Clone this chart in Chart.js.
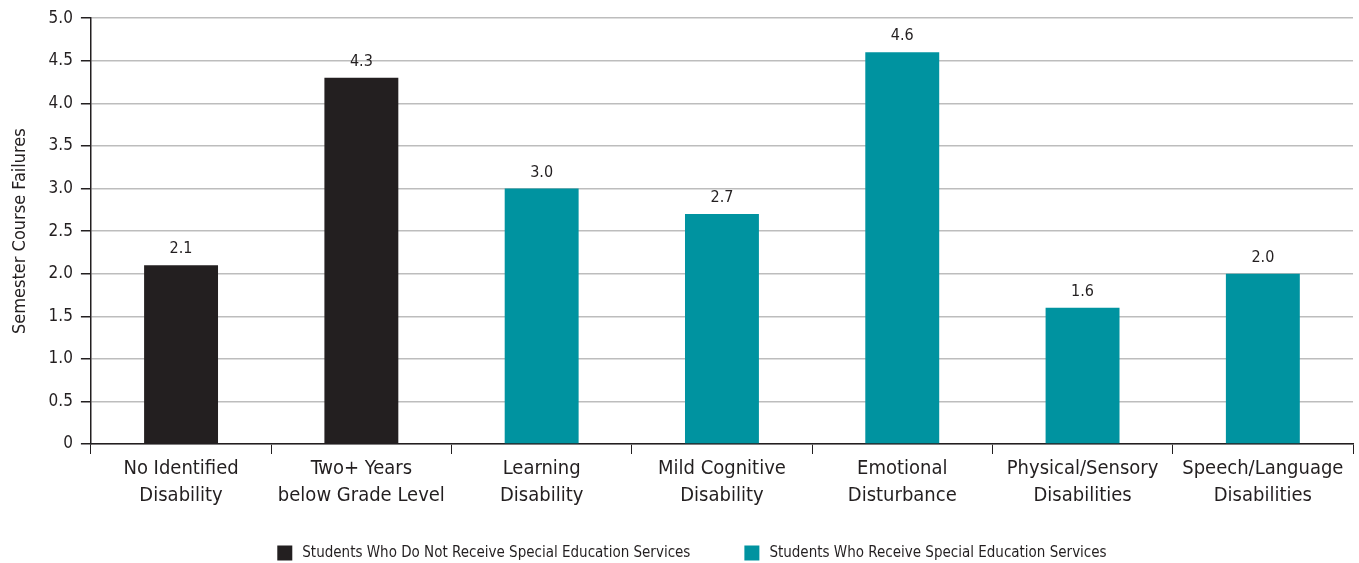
<!DOCTYPE html>
<html>
<head>
<meta charset="utf-8">
<script src="https://cdn.jsdelivr.net/npm/chart.js@4"></script>
<style>
  html, body { margin: 0; padding: 0; background: #fff; }
  #wrap { width: 1359px; height: 563px; position: relative; }
</style>
</head>
<body>
<div id="wrap"><canvas id="grafico"></canvas></div>
<script>
// ================= DATA =================
const categorias = [
    ["No Identified", "Disability"],
    ["Two+ Years", "below Grade Level"],
    ["Learning", "Disability"],
    ["Mild Cognitive", "Disability"],
    ["Emotional", "Disturbance"],
    ["Physical/Sensory", "Disabilities"],
    ["Speech/Language", "Disabilities"]
];
const fallas = [2.1, 4.3, 3.0, 2.7, 4.6, 1.6, 2.0];
const grupoBarra = [0, 0, 1, 1, 1, 1, 1];
const grupos = [
    "Students Who Do Not Receive Special Education Services",
    "Students Who Receive Special Education Services"
];
const coloresGrupo = ["#231f20", "#0093a0"];
const ticksY = [0, 0.5, 1.0, 1.5, 2.0, 2.5, 3.0, 3.5, 4.0, 4.5, 5.0];

const FUENTE = "'Liberation Sans Narrow', 'DejaVu Sans Condensed', 'Roboto Condensed', sans-serif";

// ================= PLUGINS =================
// etiquetas de valor sobre cada barra
const etiquetas = {
    id: "etiquetas",
    afterDatasetsDraw(chart) {
        const ctx = chart.ctx;
        const meta = chart.getDatasetMeta(0);
        ctx.save();
        ctx.font = "16px " + FUENTE;
        ctx.fillStyle = "#231f20";
        ctx.textAlign = "center";
        ctx.textBaseline = "bottom";
        meta.data.forEach((bar, i) => {
            ctx.fillText(fallas[i].toFixed(1), bar.x, bar.y - 8);
        });
        ctx.restore();
    }
};

// leyenda inferior (espaciado como el original)
const leyenda = {
    id: "leyenda",
    afterDraw(chart) {
        const ctx = chart.ctx;
        const caja = 15, hueco = 10, sep = 54;
        ctx.save();
        ctx.font = "15px " + FUENTE;
        ctx.textBaseline = "middle";
        const anchos = grupos.map(g => caja + hueco + ctx.measureText(g).width);
        const total = anchos.reduce((a, b) => a + b, 0) + sep * (grupos.length - 1);
        const centro = (chart.chartArea.left + chart.chartArea.right) / 2 - 30;
        let x = centro - total / 2;
        const y = 553;
        grupos.forEach((g, i) => {
            ctx.fillStyle = coloresGrupo[i];
            ctx.fillRect(x, y - caja / 2, caja, caja);
            ctx.fillStyle = "#231f20";
            ctx.fillText(g, x + caja + hueco, y);
            x += anchos[i] + sep;
        });
        ctx.restore();
    }
};

// ================= GRAFICO =================
new Chart(document.getElementById("grafico"), {
    type: "bar",
    data: {
        labels: categorias,
        datasets: [{
            data: fallas,
            backgroundColor: grupoBarra.map(g => coloresGrupo[g]),
            barPercentage: 0.82,
            categoryPercentage: 0.5
        }]
    },
    options: {
        responsive: true,
        maintainAspectRatio: false,
        animation: false,
        layout: { padding: { top: 14, right: 6, left: 10, bottom: 53 } },
        plugins: {
            tooltip: { enabled: false },
            legend: { display: false }
        },
        scales: {
            x: {
                grid: {
                    display: true,
                    drawOnChartArea: false,
                    tickLength: 10,
                    tickColor: "#231f20",
                    offset: true
                },
                border: { color: "#231f20", width: 1.5 },
                ticks: {
                    color: "#231f20",
                    font: { family: FUENTE, size: 20, lineHeight: 1.35 },
                    maxRotation: 0,
                    autoSkip: false,
                    padding: 1
                }
            },
            y: {
                min: 0,
                max: 5,
                afterBuildTicks: axis => { axis.ticks = ticksY.map(v => ({ value: v })); },
                grid: {
                    color: "#bdbdbd",
                    lineWidth: 1.5,
                    tickLength: 10,
                    tickColor: "#231f20"
                },
                border: { color: "#231f20", width: 1.5 },
                ticks: {
                    color: "#231f20",
                    font: { family: FUENTE, size: 17 },
                    padding: 8,
                    callback: v => v === 0 ? "0" : v.toFixed(1)
                },
                title: {
                    display: true,
                    text: "Semester Course Failures",
                    color: "#231f20",
                    font: { family: FUENTE, size: 18 },
                    padding: { top: 0, bottom: 9 }
                }
            }
        }
    },
    plugins: [etiquetas, leyenda]
});
</script>
</body>
</html>
